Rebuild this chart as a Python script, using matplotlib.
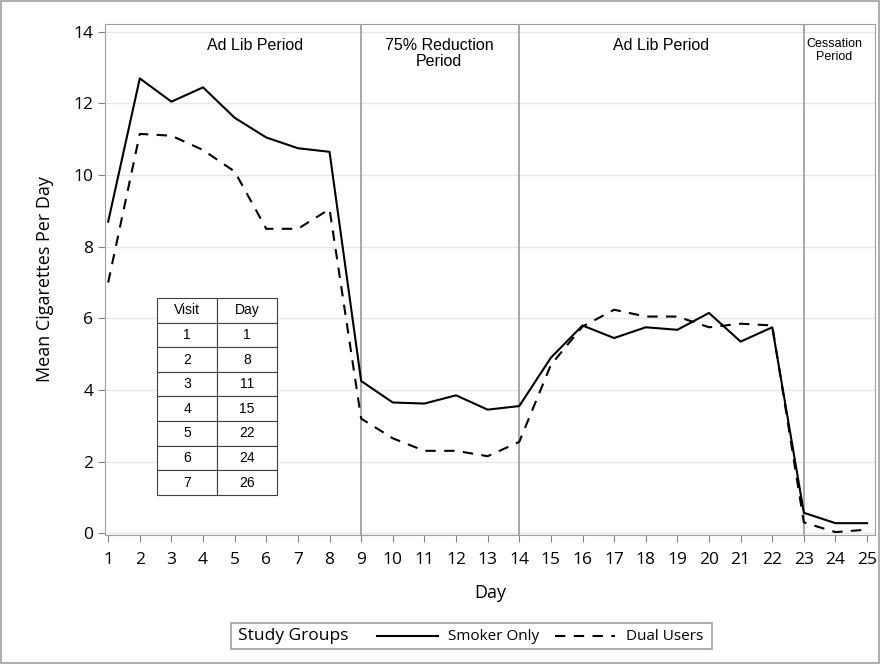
import matplotlib
matplotlib.use('Agg')
import matplotlib.pyplot as plt
from matplotlib.lines import Line2D

plt.rcParams['font.family'] = ['Open Sans', 'DejaVu Sans']

days = list(range(1, 26))
smoker_only = [8.7, 12.7, 12.05, 12.45, 11.6, 11.05, 10.75, 10.65, 4.25, 3.65, 3.62, 3.85, 3.45, 3.55,
               4.9, 5.8, 5.45, 5.75, 5.68, 6.15, 5.35, 5.75, 0.57, 0.28, 0.28]
dual_users = [7.0, 11.15, 11.1, 10.7, 10.1, 8.5, 8.5, 9.05, 3.2, 2.65, 2.3, 2.3, 2.15, 2.55,
              4.7, 5.77, 6.24, 6.05, 6.05, 5.75, 5.85, 5.8, 0.3, 0.03, 0.1]

period_breaks = [9, 14, 23]
period_labels = ['Ad Lib Period', '75% Reduction\nPeriod', 'Ad Lib Period', 'Cessation\nPeriod']
period_centers = [5.64, 11.47, 18.5, 23.96]

visits = ['1', '2', '3', '4', '5', '6', '7']
visit_days = ['1', '8', '11', '15', '22', '24', '26']

fig = plt.figure(figsize=(8.81, 6.64), dpi=100)
# outer border of the picture
fig.patches.append(plt.Rectangle((0.001, 0.001), 0.997, 0.997, transform=fig.transFigure,
                                 fill=False, edgecolor='#a0a0a0', lw=1.2))
ax = fig.add_axes([0.1192, 0.1943, 0.874, 0.7696])

for y in range(0, 15, 2):
    ax.axhline(y, color='#e6e6e6', lw=1, zorder=0)
for b in period_breaks:
    ax.axvline(b, color='#a0a0a0', lw=1.3, zorder=1)

ax.plot(days, smoker_only, color='black', lw=1.5, zorder=3)
ax.plot(days, dual_users, color='black', lw=1.5, ls=(0, (5, 4)), zorder=3)

ax.set_xlim(0.9, 25.25)
ax.set_ylim(-0.05, 14.22)
ax.set_xticks(days)
ax.set_yticks(range(0, 15, 2))
ax.tick_params(labelsize=12.5, color='#808080', length=5)
ax.tick_params(axis='x', pad=7)
for s in ax.spines.values():
    s.set_color('#a0a0a0')
ax.set_xlabel('Day', fontsize=13, labelpad=12)
ax.set_ylabel('Mean Cigarettes Per Day', fontsize=13, labelpad=14)

for i, (lab, xc) in enumerate(zip(period_labels, period_centers)):
    fs = 9 if i == 3 else 11.5
    ax.text(xc, 13.82, lab, ha='center', va='top', fontsize=fs, linespacing=1.05,
            family=['Liberation Sans', 'DejaVu Sans'])

# visit table
tbl = ax.table(cellText=[[v, d] for v, d in zip(visits, visit_days)],
               colLabels=['Visit', 'Day'], cellLoc='center',
               bbox=[0.0675, 0.078, 0.156, 0.386])
tbl.auto_set_font_size(False)
tbl.set_fontsize(10)
for c in tbl.get_celld().values():
    c.set_linewidth(0.8)
    c.set_edgecolor('#404040')
    c.get_text().set_family(['Liberation Sans', 'DejaVu Sans'])

# legend row at the bottom: title and entries on one line
W, H = 881, 664
fig.patches.append(plt.Rectangle((231 / W, 1 - 649 / H), 481 / W, 26 / H, transform=fig.transFigure,
                                 fill=False, edgecolor='#a0a0a0', lw=1.2))
ly = 1 - 636 / H
fig.text(238 / W, ly, 'Study Groups', fontsize=12.5, va='center', ha='left')
fig.add_artist(Line2D([377 / W, 438 / W], [ly, ly], color='black', lw=1.5, transform=fig.transFigure))
fig.text(448 / W, ly, 'Smoker Only', fontsize=11, va='center', ha='left')
fig.add_artist(Line2D([555 / W, 615 / W], [ly, ly], color='black', lw=1.5, ls=(0, (5, 4)),
                      transform=fig.transFigure))
fig.text(626 / W, ly, 'Dual Users', fontsize=11, va='center', ha='left')

fig.savefig('out.png', dpi=100)
